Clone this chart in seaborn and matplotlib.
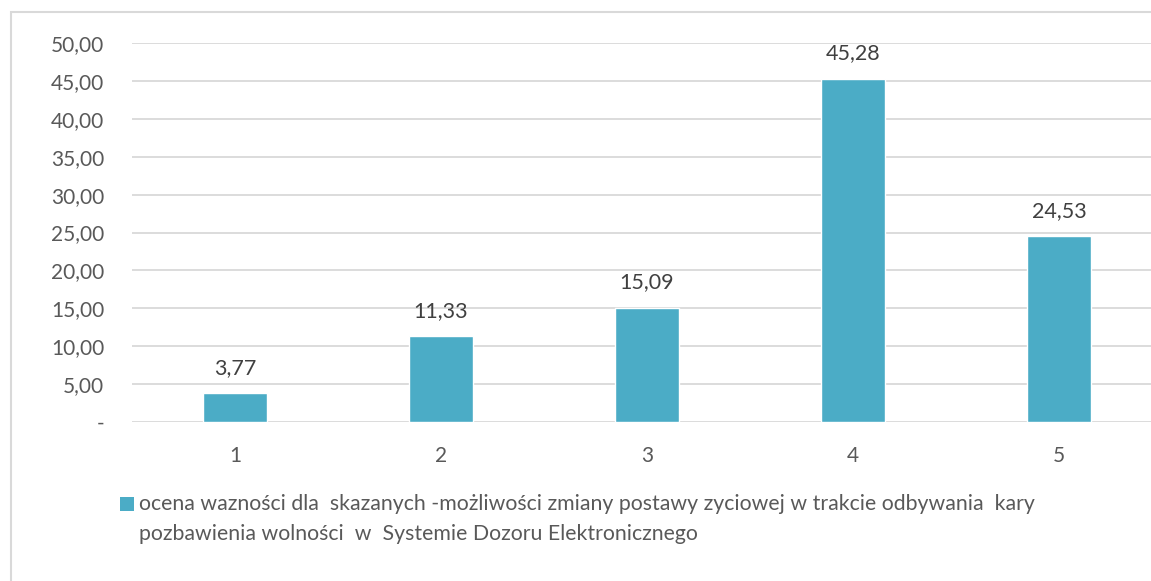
import matplotlib
matplotlib.use("Agg")
import matplotlib.pyplot as plt
from matplotlib.patches import Rectangle
from matplotlib.ticker import FuncFormatter
import seaborn as sns
import pandas as pd

categories = ["1", "2", "3", "4", "5"]
values = [3.77, 11.33, 15.09, 45.28, 24.53]
series_label = ("ocena wazności dla  skazanych -możliwości zmiany postawy zyciowej w trakcie odbywania  kary\n"
                "pozbawienia wolności  w  Systemie Dozoru Elektronicznego")

bar_color = "#4BACC6"
grid_color = "#d9d9d9"
text_color = "#595959"

sns.set_theme(style="white")
plt.rcParams['font.family'] = ['Lato', 'DejaVu Sans']

df = pd.DataFrame({"cat": categories, "val": values})

fig = plt.figure(figsize=(11.51, 5.81), dpi=100)
ax = fig.add_axes([132 / 1151, 1 - 422 / 581, 1030 / 1151, 379 / 581])

sns.barplot(data=df, x="cat", y="val", color=bar_color, width=0.31,
            saturation=1, ax=ax)

ax.set_ylim(0, 50)
ax.set_yticks(range(0, 51, 5))
ax.yaxis.set_major_formatter(FuncFormatter(
    lambda v, p: "-" if v == 0 else "{:.2f}".format(v).replace(".", ",")))
ax.grid(axis="y", color=grid_color, linewidth=1.3)
ax.set_axisbelow(True)
for s in ax.spines.values():
    s.set_visible(False)
ax.set_xlabel("")
ax.set_ylabel("")
ax.tick_params(axis="y", length=0, pad=20, labelsize=15, labelcolor=text_color)
ax.tick_params(axis="x", length=0, pad=17, labelsize=15, labelcolor=text_color)

labels = ["{:.2f}".format(v).replace(".", ",") for v in values]
ax.bar_label(ax.containers[0], labels=labels, padding=11, fontsize=15.5, color="#404040")

# outer chart border
fig.add_artist(Rectangle((11 / 1151, -0.1), 1.2, 1.1 - 12 / 581, transform=fig.transFigure,
                         fill=False, edgecolor=grid_color, linewidth=1.5))

# legend
fig.add_artist(Rectangle((120 / 1151, 1 - 511 / 581), 14 / 1151, 14 / 581,
                         transform=fig.transFigure, facecolor=bar_color, edgecolor="none"))
fig.text(139 / 1151, 1 - 494 / 581, series_label, fontsize=15.3, color=text_color,
         va="top", ha="left", linespacing=1.6)

fig.savefig("out.png", dpi=100)
